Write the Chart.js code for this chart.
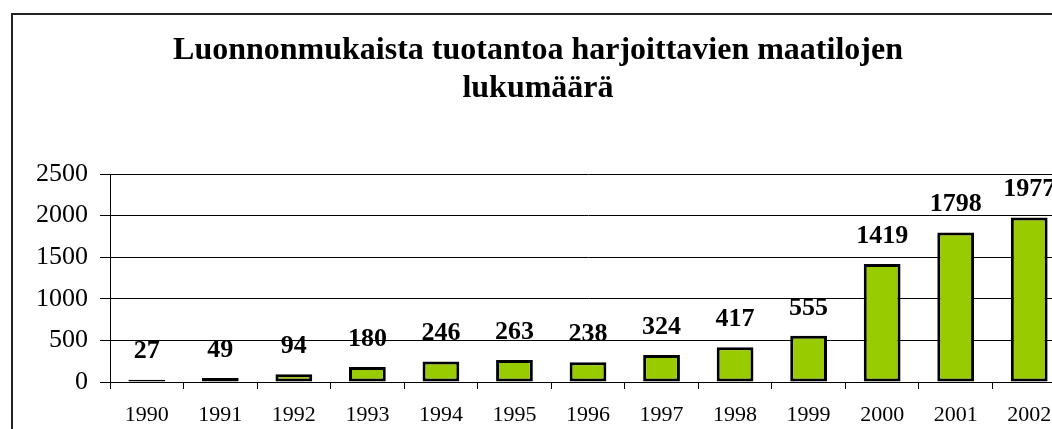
<!DOCTYPE html>
<html lang="fi">
<head>
<meta charset="utf-8">
<title>Luonnonmukaista tuotantoa harjoittavien maatilojen lukumäärä</title>
<script src="https://cdn.jsdelivr.net/npm/chart.js@4/dist/chart.umd.min.js"></script>
<style>
    html, body { margin: 0; padding: 0; background: #fff; overflow: hidden; }
    body { width: 1052px; height: 429px; position: relative; }
    #kehys {
        position: absolute; left: 11px; top: 13px;
        width: 1100px; height: 500px;
        border: 2px solid #222;
    }
    #myChart { position: absolute; left: 0; top: 0; }
</style>
</head>
<body>
<div id="kehys"></div>
<canvas id="myChart" width="1066" height="429"></canvas>
<script>
const vuodet = ['1990', '1991', '1992', '1993', '1994', '1995', '1996', '1997', '1998', '1999', '2000', '2001', '2002'];
const tilat = [27, 49, 94, 180, 246, 263, 238, 324, 417, 555, 1419, 1798, 1977];
const otsikko = ['Luonnonmukaista tuotantoa harjoittavien maatilojen', 'lukumäärä'];
const yTicks = [0, 500, 1000, 1500, 2000, 2500];

const fontti = "'Liberation Serif', 'Times New Roman', serif";
const ctx = document.getElementById('myChart');

// arvot palkkien päälle
const arvoLabelit = {
    id: 'arvoLabelit',
    afterDatasetsDraw(chart) {
        const c = chart.ctx;
        const meta = chart.getDatasetMeta(0);
        c.save();
        c.font = 'bold 26px ' + fontti;
        c.fillStyle = '#000';
        c.textAlign = 'center';
        c.textBaseline = 'middle';
        meta.data.forEach((bar, i) => {
            c.fillText(String(tilat[i]), bar.x, bar.y - 28);
        });
        c.restore();
    }
};

new Chart(ctx, {
    type: 'bar',
    data: {
        labels: vuodet,
        datasets: [{
            label: '',
            data: tilat,
            backgroundColor: '#99cc00',
            borderColor: '#000',
            borderWidth: 3,
            borderSkipped: false,
            barPercentage: 0.5,
            categoryPercentage: 1
        }]
    },
    options: {
        responsive: false,
        animation: false,
        layout: { padding: { left: 10, right: 0, top: 0, bottom: 0 } },
        plugins: {
            legend: { display: false },
            tooltip: { enabled: false },
            title: {
                display: true,
                text: otsikko,
                color: '#000',
                font: { family: fontti, size: 32, weight: 'bold', lineHeight: 1.1875 },
                padding: { top: 32, bottom: 66 }
            }
        },
        scales: {
            x: {
                offset: true,
                grid: {
                    offset: true,
                    drawOnChartArea: false,
                    drawTicks: true,
                    tickLength: 7,
                    color: '#000'
                },
                border: { display: true, color: '#000', width: 1 },
                ticks: {
                    color: '#000',
                    padding: 13,
                    maxRotation: 0,
                    autoSkip: false,
                    font: { family: fontti, size: 22 }
                },
                afterFit(scale) { scale.height = 47; }
            },
            y: {
                min: 0,
                max: 2500,
                afterBuildTicks(scale) { scale.ticks = yTicks.map(v => ({ value: v })); },
                grid: {
                    color: '#000',
                    lineWidth: 1,
                    tickLength: 10
                },
                border: { display: true, color: '#000', width: 1 },
                ticks: {
                    color: '#000',
                    padding: 12,
                    font: { family: fontti, size: 26 },
                    callback: v => String(v)
                },
                afterFit(scale) { scale.width = 100; }
            }
        }
    },
    plugins: [arvoLabelit]
});
</script>
</body>
</html>
